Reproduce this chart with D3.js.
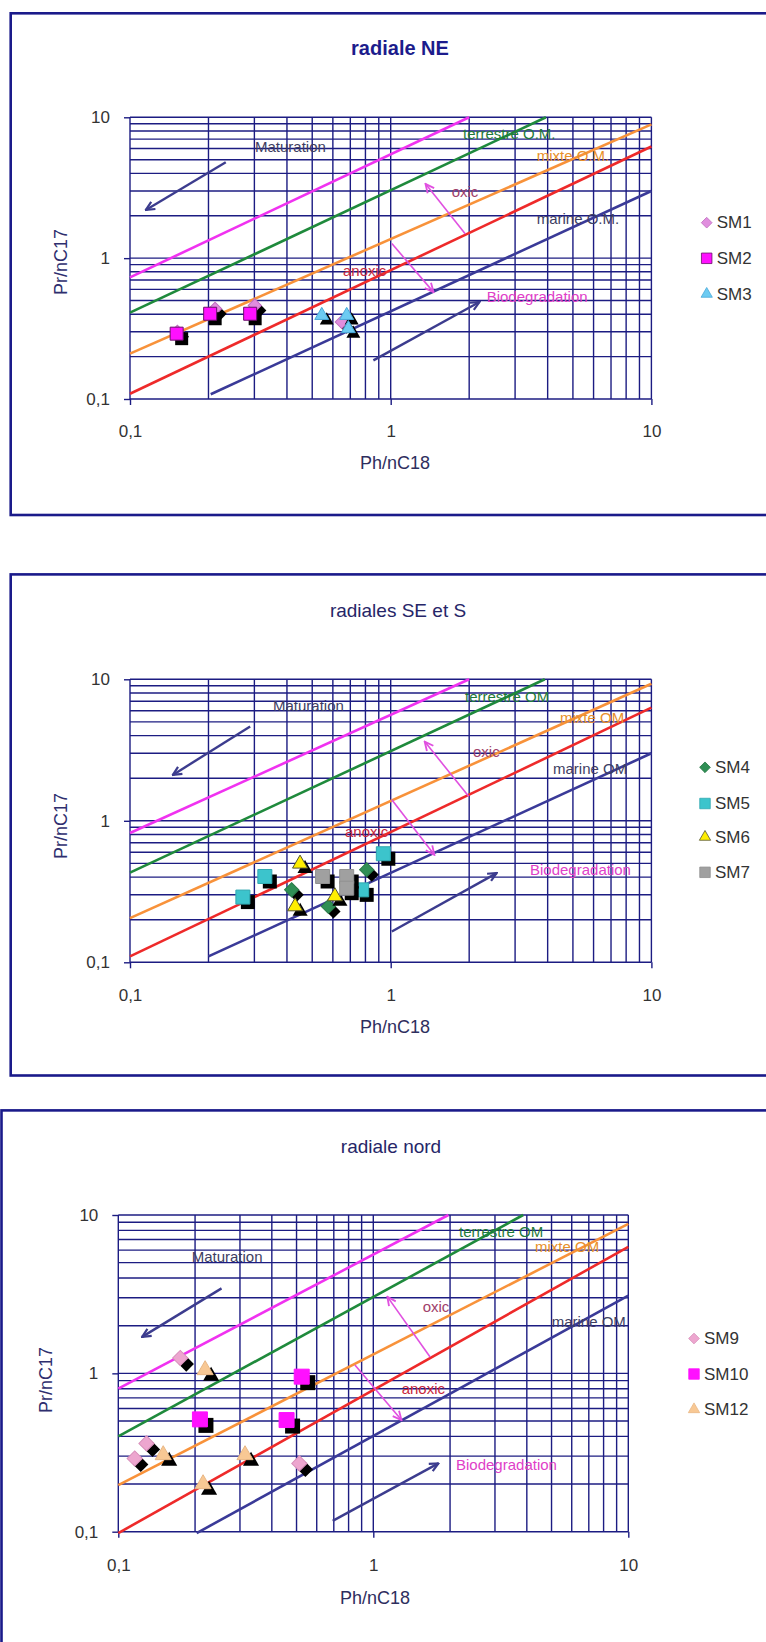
<!DOCTYPE html>
<html><head><meta charset="utf-8">
<script src="https://cdn.jsdelivr.net/npm/d3@7"></script>
<style>
body{margin:0;background:#fff;}
svg{display:block;font-family:Arial,"Liberation Sans",sans-serif;}
</style></head><body>
<svg id="chart" width="766" height="1642"></svg>
<script>
// ---------------- DATA ----------------
const panelTitles = ["radiale NE", "radiales SE et S", "radiale nord"];
const xAxisTitle = "Ph/nC18";
const yAxisTitle = "Pr/nC17";
const tickValues = [0.1, 1, 10];
const tickLabels = ["0,1", "1", "10"];
const gridValues = [0.1,0.2,0.3,0.4,0.5,0.6,0.7,0.8,0.9,1,2,3,4,5,6,7,8,9,10];

// reference lines [x1,y1,x2,y2]: upper, terrestre, mixte, oxic/anoxic limit, marine
const refLinesNE = [[0.1,0.73,2,10],[0.1,0.41,3.94,10],[0.1,0.21,10,8.9],[0.1,0.109,10,6.2],[0.204,0.108,10,3.0]];
const refLinesSE = [[0.1,0.82,2,10],[0.1,0.43,3.9,10],[0.1,0.205,10,9.3],[0.1,0.11,10,6.3],[0.2,0.11,10,3.0]];
const refLinesN  = [[0.1,0.8,1.97,10],[0.1,0.4,3.87,10],[0.1,0.197,10,8.8],[0.1,0.098,10,6.3],[0.203,0.098,10,3.1]];

// arrows [xTail,yTail,xHead,yHead]: maturation, biodegradation, oxic, anoxic
const arrowsNE = [[0.233,4.8,0.115,2.2],[0.858,0.188,2.19,0.488],[1.93,1.49,1.36,3.37],[1.01,1.27,1.46,0.574]];
const arrowsSE = [[0.289,4.64,0.146,2.11],[1.01,0.165,2.55,0.427],[1.99,1.49,1.35,3.63],[1.01,1.41,1.47,0.575]];
const arrowsN  = [[0.254,3.44,0.124,1.70],[0.693,0.117,1.8,0.27],[1.67,1.27,1.135,3.05],[0.847,1.13,1.29,0.507]];

const annotationTextsNE = ["Maturation","terrestre O.M.","mixte O.M.","oxic","marine O.M.","anoxic","Biodegradation"];
const annotationTextsOM = ["Maturation","terrestre OM","mixte OM","oxic","marine OM","anoxic","Biodegradation"];

// series [Ph/nC18, Pr/nC17]
const seriesNE = ["SM1","SM2","SM3"];
const SM1 = [[0.152,0.30],[0.212,0.437],[0.301,0.462],[0.649,0.352]];
const SM2 = [[0.151,0.291],[0.203,0.403],[0.289,0.403]];
const SM3 = [[0.544,0.392],[0.678,0.392],[0.688,0.316]];
const seriesSE = ["SM4","SM5","SM6","SM7"];
const SM4 = [[0.417,0.325],[0.577,0.248],[0.809,0.451]];
const SM5 = [[0.271,0.289],[0.329,0.404],[0.937,0.585],[0.774,0.325]];
const SM6 = [[0.449,0.497],[0.43,0.248],[0.611,0.292]];
const SM7 = [[0.548,0.404],[0.678,0.404],[0.678,0.334]];
const seriesN = ["SM9","SM10","SM12"];
const SM9  = [[0.116,0.29],[0.129,0.361],[0.175,1.25],[0.513,0.27]];
const SM10 = [[0.209,0.512],[0.457,0.507],[0.524,0.953]];
const SM12 = [[0.15,0.305],[0.219,1.05],[0.314,0.305],[0.215,0.2]];

// ---------------- STYLE / LAYOUT ----------------
const seriesData = {SM1,SM2,SM3,SM4,SM5,SM6,SM7,SM9,SM10,SM12};
const seriesStyle = {
  SM1:{shape:"diamond", fill:"#e08ede", stroke:"#c070c0"},
  SM2:{shape:"square", fill:"#ff10ff", stroke:"#6a106a"},
  SM3:{shape:"triangle", fill:"#6ccbf2", stroke:"#4aa8d8"},
  SM4:{shape:"diamond", fill:"#2f8f55", stroke:"#2a7a48"},
  SM5:{shape:"square", fill:"#3cc4cc", stroke:"#30a8b0"},
  SM6:{shape:"triangle", fill:"#ffee00", stroke:"#555533"},
  SM7:{shape:"square", fill:"#a0a0a0", stroke:"#909090"},
  SM9:{shape:"diamond", fill:"#eda6cf", stroke:"#d890bb"},
  SM10:{shape:"square", fill:"#ff10ff", stroke:"#ff10ff"},
  SM12:{shape:"triangle", fill:"#f8c894", stroke:"#e8b684"}
};
const lineColors = ["#f032f0","#1f8a3c","#f8923a","#ee2a2a","#3a3a98"];
const arrowColors = ["#3c3c8e","#3c3c8e","#e050e0","#e050e0"];
const annotationColors = ["#3e3e62","#1f7a3a","#e8902a","#a0406a","#3e3e62","#c8283c","#e040c8"];
const navy = "#1c1c82";

const layout = [
  {x0:130, x1:651.4, yTop:117.3, yBot:399, border:[10.7,13.3,790,515],
   title:[400,55], titleBold:true, titleSize:20, xPad:20, xTitle:[395,469], yTitle:[61,262],
   legendX:706.7, legendY:[222.7,258.3,294], shadow:5, sq:13,
   labels:[[255,146],[463,133.3],[536.7,155],[451.7,191.7],[536.7,218.3],[343,270],[486.7,296.7]]},
  {x0:130, x1:651.4, yTop:679.3, yBot:962.3, border:[10.7,574.4,790,1075.5],
   title:[398,617], titleBold:false, titleSize:19, xPad:20.5, xTitle:[395,1033], yTitle:[61,826],
   legendX:705, legendY:[767.3,803.5,837,872.3], shadow:5, sq:14,
   labels:[[273,705.7],[465,696.7],[560,717.3],[473,751.7],[553,768.3],[345,831.7],[530,869.3]]},
  {x0:118.3, x1:628.3, yTop:1215, yBot:1531.7, border:[1.5,1110.4,790,1680],
   title:[391,1153], titleBold:false, titleSize:19, xPad:21.5, xTitle:[375,1604], yTitle:[46.4,1380],
   legendX:694, legendY:[1338.5,1374,1409.4], shadow:6, sq:15,
   labels:[[191.7,1256],[459,1231],[535,1246.7],[422.7,1306],[551.7,1321.7],[401.7,1388.3],[456,1464]]}
];

const panels = [
  {lines:refLinesNE, arrows:arrowsNE, texts:annotationTextsNE, series:seriesNE},
  {lines:refLinesSE, arrows:arrowsSE, texts:annotationTextsOM, series:seriesSE},
  {lines:refLinesN,  arrows:arrowsN,  texts:annotationTextsOM, series:seriesN}
];

// ---------------- DRAW ----------------
const svg = d3.select("#chart");
svg.append("rect").attr("width",766).attr("height",1642).attr("fill","#fff");
const defs = svg.append("defs");
function arrowMarker(id,color,w){
  defs.append("marker").attr("id",id).attr("viewBox","0 0 12 12")
    .attr("refX",10.5).attr("refY",6).attr("markerWidth",11).attr("markerHeight",11)
    .attr("markerUnits","userSpaceOnUse").attr("orient","auto")
    .append("path").attr("d","M1,1.5 L10.5,6 L1,10.5").attr("fill","none")
    .attr("stroke",color).attr("stroke-width",w).attr("stroke-linejoin","miter");
}
arrowMarker("headNavy","#3c3c8e",2.4);
arrowMarker("headMag","#e050e0",2);

function symbolPath(shape, s){
  if(shape==="square") return d3.symbol(d3.symbolSquare, s*s)();
  if(shape==="diamond") return d3.symbol(d3.symbolSquare, (s*0.72)*(s*0.72))();
  return d3.symbol(d3.symbolTriangle, s*s*0.5)();
}
function symbolRot(shape){ return shape==="diamond" ? " rotate(45)" : ""; }

panels.forEach((p,i)=>{
  const L = layout[i];
  const g = svg.append("g");
  g.append("rect").attr("x",L.border[0]).attr("y",L.border[1])
    .attr("width",L.border[2]-L.border[0]).attr("height",L.border[3]-L.border[1])
    .attr("fill","none").attr("stroke","#1a1a8a").attr("stroke-width",2.6);

  const x = d3.scaleLog().domain([0.1,10]).range([L.x0,L.x1]);
  const y = d3.scaleLog().domain([0.1,10]).range([L.yBot,L.yTop]);

  // title
  g.append("text").attr("x",L.title[0]).attr("y",L.title[1]).attr("text-anchor","middle")
    .attr("font-size",L.titleSize).attr("font-weight",L.titleBold?"bold":"normal")
    .attr("fill",L.titleBold?"#1c1c8c":"#262668").text(panelTitles[i]);

  // grid
  const grid = g.append("g").attr("stroke",navy).attr("stroke-width",1.4);
  grid.selectAll("line.v").data(gridValues).join("line").attr("class","v")
    .attr("x1",d=>x(d)).attr("x2",d=>x(d)).attr("y1",L.yTop).attr("y2",L.yBot);
  grid.selectAll("line.h").data(gridValues).join("line").attr("class","h")
    .attr("y1",d=>y(d)).attr("y2",d=>y(d)).attr("x1",L.x0).attr("x2",L.x1);

  // axes
  const xa = g.append("g").attr("transform",`translate(0,${L.yBot})`)
    .call(d3.axisBottom(x).tickValues(tickValues).tickFormat((d,k)=>tickLabels[k]).tickSize(6).tickPadding(L.xPad));
  const ya = g.append("g").attr("transform",`translate(${L.x0},0)`)
    .call(d3.axisLeft(y).tickValues(tickValues).tickFormat((d,k)=>tickLabels[k]).tickSize(6).tickPadding(14));
  [xa,ya].forEach(a=>{
    a.select(".domain").remove();
    a.selectAll(".tick line").attr("stroke",navy).attr("stroke-width",1.4);
    a.selectAll(".tick text").attr("font-size",17).attr("fill","#333").attr("font-family","Arial, Liberation Sans, sans-serif");
  });

  // axis titles
  g.append("text").attr("x",L.xTitle[0]).attr("y",L.xTitle[1]).attr("text-anchor","middle")
    .attr("font-size",18).attr("fill","#2e2e5e").text(xAxisTitle);
  g.append("text").attr("transform",`translate(${L.yTitle[0]},${L.yTitle[1]}) rotate(-90)`)
    .attr("text-anchor","middle").attr("dominant-baseline","central")
    .attr("font-size",18).attr("fill","#2e2e6e").text(yAxisTitle);

  // reference lines
  g.selectAll("line.ref").data(p.lines).join("line").attr("class","ref")
    .attr("x1",d=>x(d[0])).attr("y1",d=>y(d[1])).attr("x2",d=>x(d[2])).attr("y2",d=>y(d[3]))
    .attr("stroke",(d,k)=>lineColors[k]).attr("stroke-width",2.6);

  // arrows
  g.selectAll("line.arr").data(p.arrows).join("line").attr("class","arr")
    .attr("x1",d=>x(d[0])).attr("y1",d=>y(d[1])).attr("x2",d=>x(d[2])).attr("y2",d=>y(d[3]))
    .attr("stroke",(d,k)=>arrowColors[k]).attr("stroke-width",(d,k)=>k<2?2.4:1.6)
    .attr("marker-end",(d,k)=>k<2?"url(#headNavy)":"url(#headMag)");

  // annotation labels
  g.selectAll("text.ann").data(p.texts).join("text").attr("class","ann")
    .attr("x",(d,k)=>L.labels[k][0]).attr("y",(d,k)=>L.labels[k][1])
    .attr("dominant-baseline","central").attr("font-size",15)
    .attr("fill",(d,k)=>annotationColors[k]).text(d=>d);

  // data markers with shadow
  p.series.forEach(name=>{
    const st = seriesStyle[name];
    const path = symbolPath(st.shape, L.sq);
    const sg = g.append("g");
    sg.selectAll("path.sh").data(seriesData[name]).join("path").attr("class","sh")
      .attr("d",path).attr("fill","#000")
      .attr("transform",d=>`translate(${x(d[0])+L.shadow},${y(d[1])+L.shadow})${symbolRot(st.shape)}`);
    sg.selectAll("path.mk").data(seriesData[name]).join("path").attr("class","mk")
      .attr("d",path).attr("fill",st.fill).attr("stroke",st.stroke).attr("stroke-width",1)
      .attr("transform",d=>`translate(${x(d[0])},${y(d[1])})${symbolRot(st.shape)}`);
  });

  // legend
  const lg = g.append("g");
  p.series.forEach((name,k)=>{
    const st = seriesStyle[name];
    const ly = L.legendY[k];
    lg.append("path").attr("d",symbolPath(st.shape, 10.5)).attr("fill",st.fill)
      .attr("stroke",st.shape==="square"&&name==="SM2"?"#6a106a":st.stroke).attr("stroke-width",0.8)
      .attr("transform",`translate(${L.legendX},${ly})${symbolRot(st.shape)}`);
    lg.append("text").attr("x",L.legendX+10).attr("y",ly).attr("dominant-baseline","central")
      .attr("font-size",17).attr("fill","#333").text(name);
  });
});
</script>
</body></html>
